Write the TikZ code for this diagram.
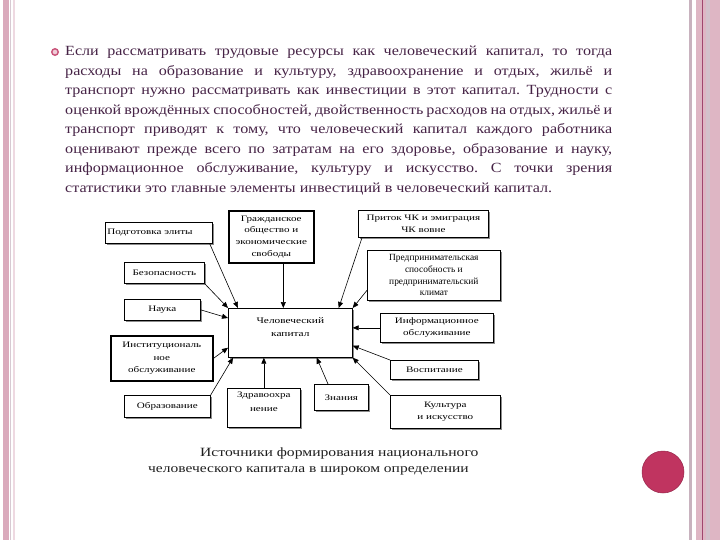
\documentclass[tikz,border=0pt]{standalone}
\usepackage{fontspec}
\setmainfont{Liberation Serif}
\newfontfamily\parafont[FakeStretch=1.15]{Liberation Serif}
\newfontfamily\boxfont[FakeStretch=1.32]{Liberation Serif}
\newfontfamily\capfont[FakeStretch=1.24]{Liberation Serif}
\usetikzlibrary{arrows.meta,shadows}
\frenchspacing
\definecolor{paratext}{RGB}{70,35,70}
\definecolor{pinkbar}{RGB}{218,170,188}
\definecolor{pinkband}{RGB}{222,182,196}
\definecolor{pinkdark}{RGB}{160,70,110}
\definecolor{pinkgray}{RGB}{200,178,190}
\definecolor{dotpink}{RGB}{192,52,96}
\definecolor{dotedge}{RGB}{150,40,75}
\newcommand\jline[1]{\makebox[547pt][s]{\spaceskip=0.25em plus 1em minus 0.17em #1}}
\tikzset{
  para/.style={anchor=base west, inner sep=0pt, text=paratext,
    font=\parafont\fontsize{14}{14}\selectfont},
  box/.style={draw=black, line width=0.7pt, fill=white, inner sep=1pt,
    align=center, anchor=north west, text=black,
    font=\boxfont\fontsize{8.4}{12}\selectfont,
    drop shadow={shadow xshift=1.6pt, shadow yshift=-1.6pt, fill=black!45, opacity=1}},
  thickbox/.style={box, line width=1.6pt},
  arr/.style={-{Triangle[length=6pt,width=5pt]}, line width=0.6pt, black},
  captext/.style={anchor=base west, inner sep=0pt, text=black!88}
}
\begin{document}
\begin{tikzpicture}[x=1pt,y=-1pt]
\useasboundingbox (0,0) rectangle (720,540);
\fill[white] (0,0) rectangle (720,540);
% left border stripes
\fill[pinkbar] (3,0) rectangle (9,540);
\fill[pinkgray!70] (10,0) rectangle (11,540);
\fill[pinkbar!45] (13,0) rectangle (14.5,540);
% right border stripes
\fill[pinkgray] (689,0) rectangle (692,540);
\fill[pinkband] (696,0) rectangle (720,540);
\fill[pinkgray!80] (706,0) rectangle (710,540);
\draw[pinkdark, line width=0.9pt] (702,0) -- (702,540);
% pink dot
\node[circle, fill=dotpink, draw=dotedge, line width=0.5pt, minimum size=42pt, inner sep=0pt] (dot) at (663,472) {};
% bullet
\node[circle, draw=dotpink!85, fill=dotpink!25, line width=1.4pt, minimum size=6.5pt, inner sep=0pt] (bul) at (55,52) {};
% paragraph
\node[para] (l1) at (65,56)  {\jline{Если рассматривать трудовые ресурсы как человеческий капитал, то тогда}};
\node[para] (l2) at (65,75.5) {\jline{расходы на образование и культуру, здравоохранение и отдых, жильё и}};
\node[para] (l3) at (65,95)  {\jline{транспорт нужно рассматривать как инвестиции в этот капитал. Трудности с}};
\node[para] (l4) at (65,114.5) {\jline{оценкой врождённых способностей, двойственность расходов на отдых, жильё и}};
\node[para] (l5) at (65,134) {\jline{транспорт приводят к тому, что человеческий капитал каждого работника}};
\node[para] (l6) at (65,153.5) {\jline{оценивают прежде всего по затратам на его здоровье, образование и науку,}};
\node[para] (l7) at (65,173) {\jline{информационное обслуживание, культуру и искусство. С точки зрения}};
\node[para] (l8) at (65,192.5) {статистики это главные элементы инвестиций в человеческий капитал.};
% diagram boxes
\node[box, minimum width=107pt, minimum height=21pt, align=left, text width=103pt] (elite) at (105,222) {Подготовка элиты};
\node[thickbox, minimum width=85pt, minimum height=52pt, font=\boxfont\fontsize{8.4}{11.6}\selectfont] (civil) at (228,210) {Гражданское\\общество и\\экономические\\свободы};
\node[box, minimum width=130pt, minimum height=27pt] (inflow) at (358,210) {Приток ЧК и эмиграция\\ЧК вовне};
\node[box, minimum width=80pt, minimum height=21pt] (safety) at (124,262) {Безопасность};
\node[box, minimum width=133pt, minimum height=50pt, font=\fontsize{9.4}{11.7}\selectfont] (entre) at (367,250) {Предпринимательская\\способность и\\предпринимательский\\климат};
\node[box, minimum width=76pt, minimum height=21pt] (science) at (124,299) {Наука};
\node[box, minimum width=124pt, minimum height=49pt, text depth=12pt, font=\boxfont\fontsize{8.6}{13}\selectfont] (hc) at (228,308) {Человеческий\\капитал};
\node[box, minimum width=113pt, minimum height=29pt] (info) at (380,313) {Информационное\\обслуживание};
\node[thickbox, minimum width=102pt, minimum height=45pt, font=\boxfont\fontsize{8.4}{12.5}\selectfont] (inst) at (110,335) {Институциональ\\ное\\обслуживание};
\node[box, minimum width=88pt, minimum height=19pt] (upbr) at (390,360) {Воспитание};
\node[box, minimum width=73pt, minimum height=39pt, text depth=12pt, font=\boxfont\fontsize{8.4}{14}\selectfont] (health) at (227,388) {Здравоохра\\нение};
\node[box, minimum width=54pt, minimum height=26pt] (know) at (314,384) {Знания};
\node[box, minimum width=86pt, minimum height=22pt] (edu) at (124,395) {Образование};
\node[box, minimum width=110pt, minimum height=33pt] (culture) at (390,395) {Культура\\и искусство};
% arrows
\draw[arr] ([xshift=-3pt]elite.south east) -- ([xshift=10pt]hc.north west);
\draw[arr] (safety.south east) -- (hc.north west);
\draw[arr] ([xshift=12pt]civil.south) -- ([xshift=12pt]civil.south |- hc.north);
\draw[arr] ([xshift=4pt]inflow.south west) -- ([xshift=-14pt]hc.north east);
\draw[arr] ([yshift=-15pt]entre.west) -- (hc.north east);
\draw[arr] (science.east) -- ([yshift=-10pt]hc.north west);
\draw[arr] (inst.east) -- ([yshift=10pt]hc.south west);
\draw[arr] (edu.north east) -- ([xshift=5pt]hc.south west);
\draw[arr] (health.north) -- (health.north |- hc.south);
\draw[arr] ([xshift=14pt]know.north west) -- ([xshift=-36pt]hc.south east);
\draw[arr] (info.west) -- (info.west -| hc.east);
\draw[arr] (upbr.north west) -- ([yshift=12pt]hc.south east);
\draw[arr] (culture.north west) -- (hc.south east);
% caption
\node[captext, font=\capfont\fontsize{12.6}{12.6}\selectfont] (cap1) at (200,456) {Источники формирования национального};
\node[captext, font=\capfont\fontsize{12.5}{12.5}\selectfont] (cap2) at (148,472) {человеческого капитала в широком определении};
\end{tikzpicture}
\end{document}
